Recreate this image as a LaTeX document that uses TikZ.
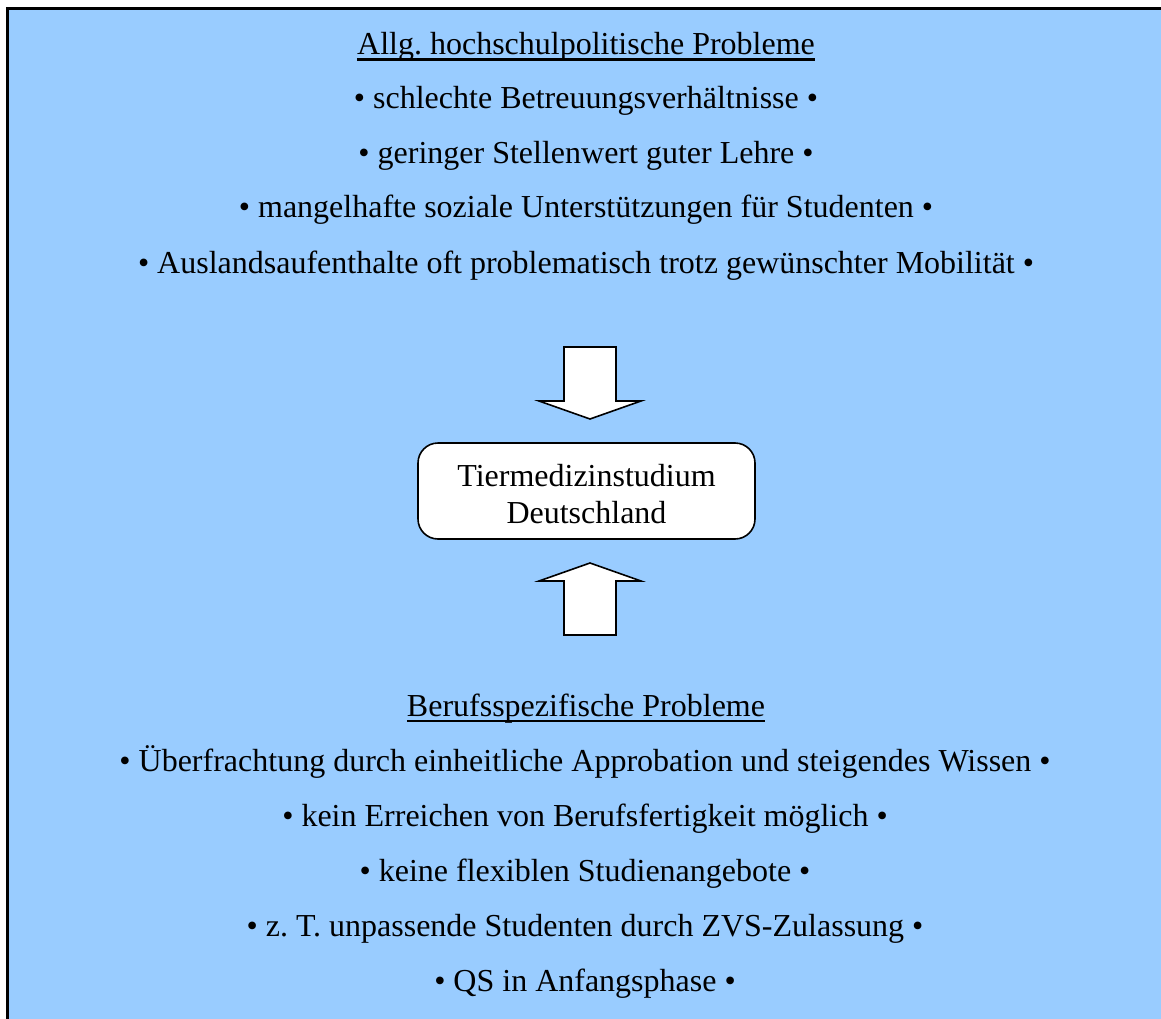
\documentclass[tikz,border=0pt]{standalone}
\usepackage{fontspec}
\setmainfont{Liberation Serif}
\definecolor{skyfill}{HTML}{99CCFF}
\tikzset{
  line/.style={anchor=base, inner sep=0pt, font=\fontsize{32}{38}\selectfont},
  heading/.style={line},
  blockarrow/.style={draw, line width=1.6pt, fill=white, line join=miter}
}

\begin{document}
\begin{tikzpicture}[x=1pt, y=-1pt]
\useasboundingbox (0,0) rectangle (1161,1019);
\clip (0,0) rectangle (1161,1019);

\draw[line width=2.5pt, fill=skyfill] (7.5,8.5) rectangle (1175,1035);

% upper block
\node[heading] (top) at (586,55) {Allg.\ hochschulpolitische Probleme};
\draw[line width=2.5pt] ([yshift=-4.5pt]top.base west) -- ([yshift=-4.5pt]top.base east);
\node[line] (t1) at (586,109) {\textbullet\ schlechte Betreuungsverhältnisse \textbullet};
\node[line] (t2) at (586,164) {\textbullet\ geringer Stellenwert guter Lehre \textbullet};
\node[line] (t3) at (586,218) {\textbullet\ mangelhafte soziale Unterstützungen für Studenten \textbullet};
\node[line] (t4) at (586,273) {\textbullet\ Auslandsaufenthalte oft problematisch trotz gewünschter Mobilität \textbullet};

\draw[blockarrow] (564,347) -- (616,347) -- (616,401) -- (641,401) -- (590,419) -- (539,401) -- (564,401) -- cycle;

\node[draw, line width=1.6pt, fill=white, rounded corners=20pt, minimum width=337pt, minimum height=96pt] (study) at (586.5,491) {};
\node[line] (s1) at (586.5,486) {Tiermedizinstudium};
\node[line] (s2) at (586.5,523) {Deutschland};

\draw[blockarrow] (564,635) -- (616,635) -- (616,581) -- (641,581) -- (590,563) -- (539,581) -- (564,581) -- cycle;

% lower block
\node[heading] (bottom) at (586,716) {Berufsspezifische Probleme};
\draw[line width=2.5pt] ([yshift=-5pt]bottom.base west) -- ([yshift=-5pt]bottom.base east);
\node[line] (b1) at (585,771) {\textbullet\ Überfrachtung durch einheitliche Approbation und steigendes Wissen \textbullet};
\node[line] (b2) at (585,826) {\textbullet\ kein Erreichen von Berufsfertigkeit möglich \textbullet};
\node[line] (b3) at (585,881) {\textbullet\ keine flexiblen Studienangebote \textbullet};
\node[line] (b4) at (585,936) {\textbullet\ z.\ T. unpassende Studenten durch ZVS-Zulassung \textbullet};
\node[line] (b5) at (585,991) {\textbullet\ QS in Anfangsphase \textbullet};
\end{tikzpicture}
\end{document}
